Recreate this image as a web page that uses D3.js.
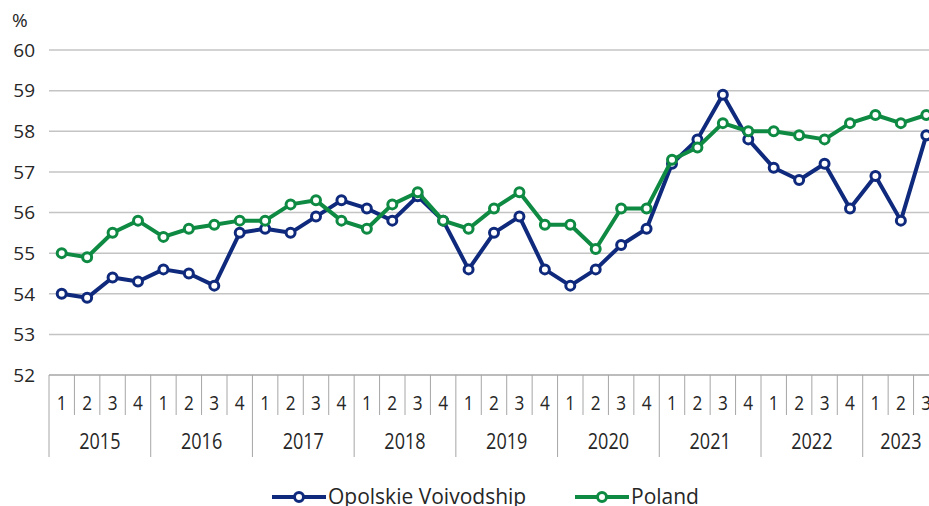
<!DOCTYPE html>
<html><head><meta charset="utf-8">
<script src="https://cdn.jsdelivr.net/npm/d3@7"></script>
<style>
html,body{margin:0;padding:0;background:#fff;overflow:hidden}
svg{display:block}
text{font-family:"Open Sans","Noto Sans",sans-serif;fill:#262626}
</style></head>
<body>
<svg id="chart" width="929" height="506"></svg>
<script>
const years = ["2015","2016","2017","2018","2019","2020","2021","2022","2023"];
const quarters = ["1","2","3","4"];
const opolskie = [54.0,53.9,54.4,54.3, 54.6,54.5,54.2,55.5, 55.6,55.5,55.9,56.3, 56.1,55.8,56.4,55.8,
  54.6,55.5,55.9,54.6, 54.2,54.6,55.2,55.6, 57.2,57.8,58.9,57.8, 57.1,56.8,57.2,56.1, 56.9,55.8,57.9];
const poland = [55.0,54.9,55.5,55.8, 55.4,55.6,55.7,55.8, 55.8,56.2,56.3,55.8, 55.6,56.2,56.5,55.8,
  55.6,56.1,56.5,55.7, 55.7,55.1,56.1,56.1, 57.3,57.6,58.2,58.0, 58.0,57.9,57.8,58.2, 58.4,58.2,58.4];
const yTicks = [52,53,54,55,56,57,58,59,60];
const seriesNames = ["Opolskie Voivodship","Poland"];
const colors = ["#0f2a7c","#0e8a43"];

const cats = [];
years.forEach(y => quarters.forEach(q => cats.push({y, q})));
const cat = cats.slice(0, opolskie.length).map((d,i)=>({...d, i}));

const svg = d3.select("#chart");
const L = 49, Rr = 939, T = 50, B = 375;
const x = d3.scaleBand().domain(cat.map(d=>d.i)).range([L, Rr]).paddingInner(0).paddingOuter(0);
const y = d3.scaleLinear().domain([52,60]).range([B, T]);
const SX = 0.86;

// gridlines
svg.append("g").selectAll("line").data(yTicks).join("line")
  .attr("x1", L).attr("x2", 929).attr("y1", d=>y(d)).attr("y2", d=>y(d))
  .attr("stroke", d=> d===52 ? "#a6a6a6" : "#c4c4c4").attr("stroke-width", 1.5);

// y labels
svg.append("g").selectAll("text").data(yTicks).join("text")
  .attr("x", 35).attr("y", d=>y(d)).attr("dy","0.36em").attr("text-anchor","end")
  .attr("font-size", 19).text(d=>d);
svg.append("text").attr("x", 12).attr("y", 27).attr("font-size", 19).text("%");

// x axis categories
const ax = svg.append("g");
const bw = x.bandwidth();
ax.selectAll("line.q").data(cat).join("line").attr("class","q")
  .attr("x1", d=>x(d.i)).attr("x2", d=>x(d.i))
  .attr("y1", B).attr("y2", d=> d.q==="1" ? 457 : 415)
  .attr("stroke","#a6a6a6").attr("stroke-width",1);
ax.selectAll("text.q").data(cat).join("text").attr("class","q")
  .attr("transform", d=>`translate(${x(d.i)+bw/2},410) scale(${SX},1)`)
  .attr("text-anchor","middle").attr("font-size", 20)
  .text(d=>d.q);
const yearGroups = d3.groups(cat, d=>d.y);
ax.selectAll("text.y").data(yearGroups).join("text").attr("class","y")
  .attr("transform", d=>`translate(${(x(d[1][0].i) + x(d[1][d[1].length-1].i) + bw)/2},449) scale(${SX},1)`)
  .attr("text-anchor","middle").attr("font-size", 21)
  .text(d=>d[0]);

// lines
const data = [opolskie, poland];
const line = d3.line().x((d,i)=>x(i)+bw/2).y(d=>y(d));
data.forEach((s, k) => {
  const g = svg.append("g");
  g.append("path").datum(s).attr("d", line).attr("fill","none")
    .attr("stroke", colors[k]).attr("stroke-width", 4).attr("stroke-linejoin","round");
  g.selectAll("circle").data(s).join("circle")
    .attr("cx", (d,i)=>x(i)+bw/2).attr("cy", d=>y(d)).attr("r", 4.5)
    .attr("fill","#fff").attr("stroke", colors[k]).attr("stroke-width", 3);
});

// legend
const leg = svg.append("g");
const legItems = [{x:272, name:seriesNames[0]}, {x:575, name:seriesNames[1]}];
legItems.forEach((it,k)=>{
  leg.append("line").attr("x1", it.x).attr("x2", it.x+54).attr("y1", 497).attr("y2", 497)
    .attr("stroke", colors[k]).attr("stroke-width", 4);
  leg.append("circle").attr("cx", it.x+27).attr("cy", 497).attr("r", 4.5)
    .attr("fill","#fff").attr("stroke", colors[k]).attr("stroke-width", 3);
  leg.append("text").attr("x", it.x+56).attr("y", 504)
    .attr("font-size", 21)
    .text(it.name);
});
</script>
</body></html>
